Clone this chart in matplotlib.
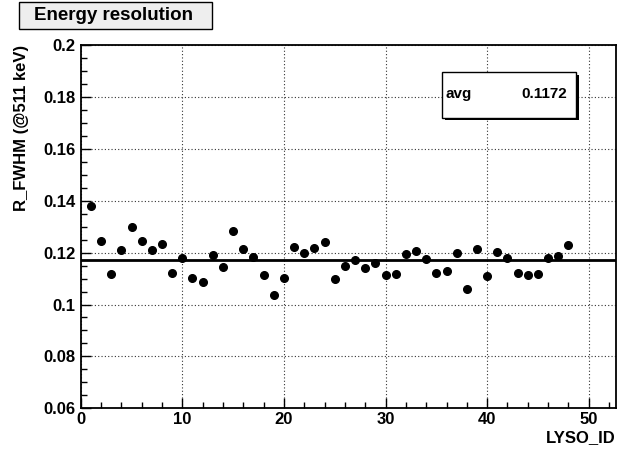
import numpy as np
import matplotlib
matplotlib.use("Agg")
import matplotlib.pyplot as plt
from matplotlib.patches import Rectangle
from matplotlib.ticker import MultipleLocator, FormatStrFormatter

## DATA
lyso_id = np.arange(1, 49)
r_fwhm = [0.1381, 0.1244, 0.1118, 0.1210, 0.1300, 0.1246, 0.1210, 0.1235,
          0.1121, 0.1178, 0.1104, 0.1088, 0.1191, 0.1144, 0.1285, 0.1214,
          0.1183, 0.1112, 0.1035, 0.1104, 0.1222, 0.1198, 0.1217, 0.1240,
          0.1100, 0.1148, 0.1171, 0.1142, 0.1159, 0.1115, 0.1119, 0.1195,
          0.1207, 0.1177, 0.1123, 0.1130, 0.1200, 0.1059, 0.1213, 0.1110,
          0.1204, 0.1178, 0.1122, 0.1114, 0.1119, 0.1181, 0.1187, 0.1228]
avg = 0.1172
x_range = (0, 52.65)
y_range = (0.06, 0.2)

plt.rcParams['font.family'] = ['Liberation Sans', 'DejaVu Sans']
plt.rcParams['font.weight'] = 'bold'

W, H = 631, 451
fig = plt.figure(figsize=(W / 100, H / 100), dpi=100)
ax = fig.add_axes([80.7 / W, 1 - 408.3 / H, (615.7 - 80.7) / W, (408.3 - 45) / H])

ax.plot(lyso_id, r_fwhm, 'o', color='black', ms=5.5, zorder=3)
ax.axhline(avg, color='black', lw=2.0, zorder=2)

ax.set_xlim(*x_range)
ax.set_ylim(*y_range)
ax.xaxis.set_major_locator(MultipleLocator(10))
ax.xaxis.set_minor_locator(MultipleLocator(2))
ax.yaxis.set_major_locator(MultipleLocator(0.02))
ax.yaxis.set_minor_locator(MultipleLocator(0.005))
ax.yaxis.set_major_formatter(FormatStrFormatter('%g'))
ax.tick_params(which='both', direction='in', top=False, right=False,
               labelsize=12, width=1)
ax.tick_params(which='major', length=7)
ax.tick_params(which='minor', length=4)
ax.tick_params(axis='x', pad=3)
ax.tick_params(axis='y', pad=4)
for lab in ax.get_xticklabels() + ax.get_yticklabels():
    lab.set_fontweight('bold')
ax.grid(True, which='major', color='#333333', lw=0.8, ls=(0, (1, 2)))
for s in ax.spines.values():
    s.set_linewidth(1.3)

ax.set_ylabel('R_FWHM (@511 keV)', fontsize=12, fontweight='bold', loc='top', labelpad=10)
fig.text(616 / W, 1 - 438 / H, 'LYSO_ID', ha='right', va='center',
         fontsize=12, fontweight='bold')

# title box
fig.patches.append(Rectangle((19 / W, 1 - 29 / H), 193 / W, 27 / H,
                             transform=fig.transFigure, facecolor='#eeeeee',
                             edgecolor='black', lw=1))
fig.text(34 / W, 1 - 15.5 / H, 'Energy resolution', ha='left', va='center',
         fontsize=13.5, fontweight='bold')

# stats box with shadow
fig.patches.append(Rectangle((444.5 / W, 1 - 120 / H), 134 / W, 45.4 / H,
                             transform=fig.transFigure, facecolor='black',
                             edgecolor='black', lw=0, zorder=5))
fig.patches.append(Rectangle((442.3 / W, 1 - 117.7 / H), 133.7 / W, 45.4 / H,
                             transform=fig.transFigure, facecolor='white',
                             edgecolor='black', lw=1, zorder=6))
fig.text(446 / W, 1 - 94 / H, 'avg', ha='left', va='center', fontsize=11,
         fontweight='bold', zorder=7)
fig.text(567 / W, 1 - 94 / H, f'{avg:.4f}', ha='right', va='center',
         fontsize=11, fontweight='bold', zorder=7)

fig.savefig('out.png', dpi=100)
